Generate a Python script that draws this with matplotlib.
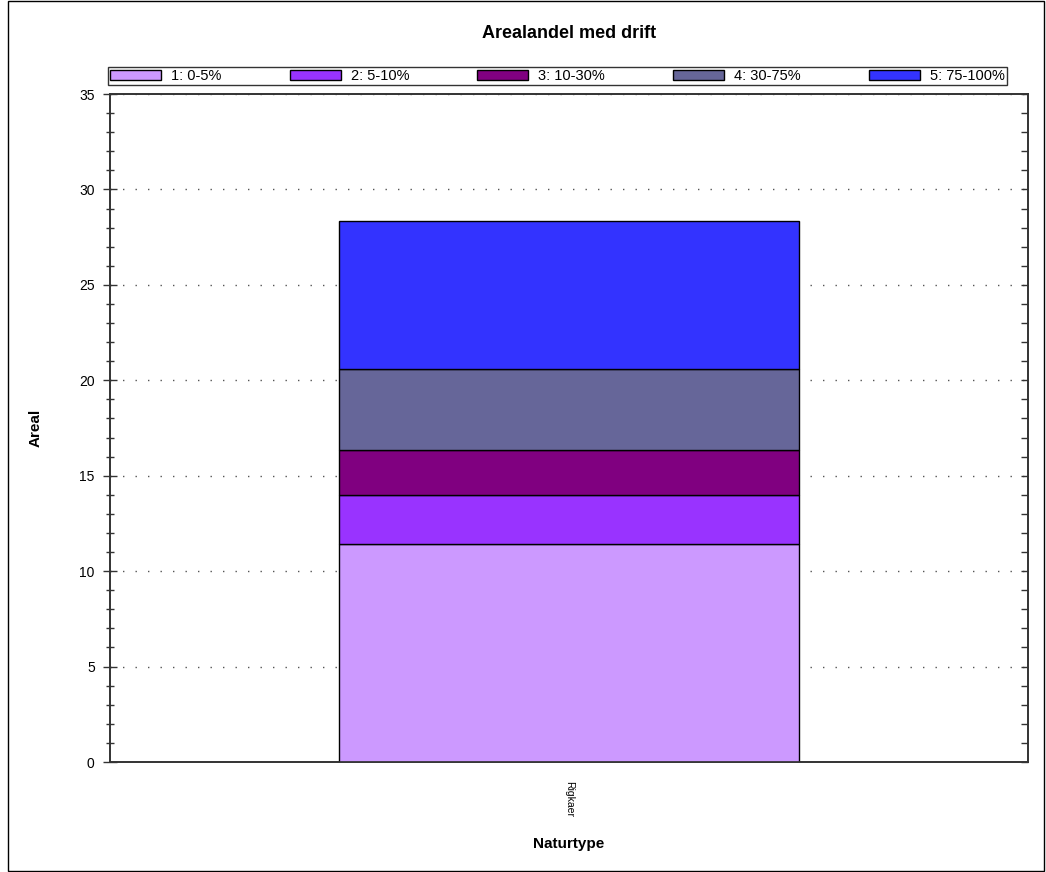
import matplotlib.pyplot as plt
from matplotlib.patches import Rectangle
from matplotlib.ticker import MultipleLocator

categories = ['Rigkaer']
series_labels = ['1: 0-5%', '2: 5-10%', '3: 10-30%', '4: 30-75%', '5: 75-100%']
series_values = [[11.42], [2.57], [2.36], [4.24], [7.76]]
colors = ['#cc99ff', '#9933ff', '#800080', '#666699', '#3333ff']

plt.rcParams['font.family'] = ['Liberation Sans', 'DejaVu Sans']

fig = plt.figure(figsize=(10.46, 8.72), dpi=100)
ax = fig.add_axes([110 / 1046, 1 - 762 / 872, 918 / 1046, 668 / 872])

x = list(range(len(categories)))
bottom = [0.0] * len(categories)
handles = []
for label, vals, col in zip(series_labels, series_values, colors):
    b = ax.bar(x, vals, width=0.502, bottom=bottom, color=col,
               edgecolor='black', linewidth=1, label=label, zorder=3)
    handles.append(b)
    bottom = [bo + v for bo, v in zip(bottom, vals)]

ax.set_xlim(-0.5, 0.5)
ax.set_ylim(0, 35)
ax.yaxis.set_major_locator(MultipleLocator(5))
ax.yaxis.set_minor_locator(MultipleLocator(1))
ax.tick_params(axis='y', which='major', direction='inout', length=10, width=1,
               labelsize=10, color='#333333', pad=6)
ax.tick_params(axis='y', which='minor', direction='inout', length=6, width=1,
               color='#333333')

# inward ticks on the right side
ax2 = ax.twinx()
ax2.set_ylim(ax.get_ylim())
ax2.yaxis.set_major_locator(MultipleLocator(1))
ax2.tick_params(axis='y', direction='in', length=5, width=1, color='#333333',
                labelright=False)
ax2.set_zorder(0)

ax.set_xticks(x)
ax.set_xticklabels(categories, rotation=270, fontsize=7.5)
ax.tick_params(axis='x', length=0, pad=14)

ax.set_axisbelow(True)
ax.yaxis.set_major_locator(MultipleLocator(5))
ax.grid(axis='y', which='major', linestyle=(0, (1, 8)), color='#555555',
        linewidth=1)
for s in ax.spines.values():
    s.set_color('#333333')
    s.set_linewidth(1.2)
for s in ax2.spines.values():
    s.set_color('#333333')
    s.set_linewidth(1.2)

ax.set_ylabel('Areal', fontsize=11, fontweight='bold', labelpad=26)
ax.set_xlabel('Naturtype', fontsize=11, fontweight='bold', labelpad=14)
fig.text(569 / 1046, 1 - 33 / 872, 'Arealandel med drift', ha='center',
         va='center', fontsize=13, fontweight='bold')

leg = fig.legend(handles=handles, labels=series_labels, ncol=5,
                 loc='lower left',
                 bbox_to_anchor=(108 / 1046, 1 - 85 / 872, 899 / 1046, 19 / 872),
                 mode='expand', fontsize=10.5, frameon=True, fancybox=False,
                 borderpad=0.15, handlelength=3.5, handleheight=0.7,
                 handletextpad=0.7, borderaxespad=0)
leg.get_frame().set_edgecolor('black')
leg.get_frame().set_linewidth(1)

fig.patches.append(Rectangle((8 / 1046, 1 / 872), 1036 / 1046, 870 / 872,
                             transform=fig.transFigure, fill=False,
                             edgecolor='black', linewidth=1))

fig.savefig('out.png', dpi=100)
